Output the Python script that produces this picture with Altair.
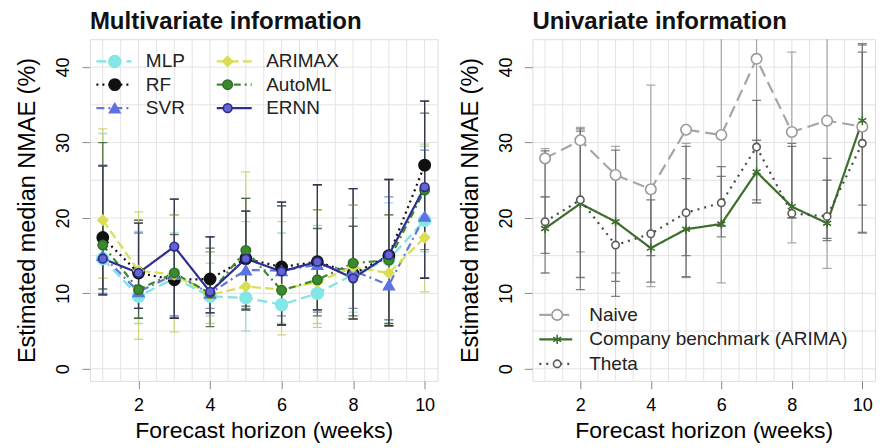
import altair as alt
import pandas as pd

FONT = "Liberation Sans"
horizon = [1, 2, 3, 4, 5, 6, 7, 8, 9, 10]

# ---------------- Multivariate information ----------------
# 2-column legend is filled column by column
mv_order = ["MLP", "RF", "SVR", "ARIMAX", "AutoML", "ERNN"]

mlp_med = [14.6, 9.6, 12.0, 9.6, 9.4, 8.5, 10.0, 12.5, 14.5, 19.7]
mlp_lo = [10.5, 6.0, 7.0, 7.0, 5.0, 6.0, 5.5, 7.5, 6.5, 15.5]
mlp_hi = [31.2, 18.2, 18.0, 14.0, 19.5, 18.0, 19.0, 20.0, 22.0, 29.5]

rf_med = [17.4, 12.7, 11.8, 11.9, 14.6, 13.5, 14.2, 12.6, 15.0, 27.0]
rf_lo = [9.8, 8.0, 6.7, 7.4, 7.8, 5.8, 7.8, 6.6, 5.7, 12.0]
rf_hi = [26.9, 19.7, 22.5, 17.5, 20.9, 22.1, 24.4, 23.9, 25.1, 35.5]

svr_med = [15.0, 10.2, 12.5, 10.0, 13.1, 13.0, 13.8, 13.0, 11.1, 20.2]
svr_lo = [10.0, 6.7, 7.0, 8.0, 8.0, 7.0, 7.5, 8.0, 6.5, 15.8]
svr_hi = [27.0, 18.0, 20.4, 15.5, 22.6, 21.6, 21.1, 21.7, 22.8, 29.0]

arimax_med = [19.7, 13.0, 12.5, 9.8, 10.9, 10.5, 11.5, 13.5, 12.7, 17.4]
arimax_lo = [12.0, 3.9, 4.9, 6.0, 7.8, 4.5, 6.0, 6.6, 6.0, 10.2]
arimax_hi = [31.8, 20.8, 20.4, 15.5, 26.1, 19.5, 21.0, 21.7, 20.4, 29.8]

automl_med = [16.4, 10.5, 12.7, 10.0, 15.7, 10.4, 11.8, 14.0, 14.4, 23.7]
automl_lo = [10.6, 6.7, 6.7, 5.6, 8.3, 5.8, 7.0, 7.0, 6.0, 12.0]
automl_hi = [30.0, 19.3, 17.8, 16.0, 22.6, 21.6, 18.6, 18.9, 20.4, 33.9]

ernn_med = [14.6, 12.7, 16.2, 10.2, 14.6, 12.9, 14.2, 12.0, 15.1, 24.1]
ernn_lo = [9.8, 8.0, 6.7, 7.4, 7.8, 5.8, 7.8, 6.6, 5.7, 12.0]
ernn_hi = [26.9, 19.3, 22.5, 17.5, 20.9, 22.1, 24.4, 23.9, 25.1, 35.5]

# ---------------- Univariate information ----------------
uv_order = ["Naive", "Company benchmark (ARIMA)", "Theta"]

naive_med = [27.9, 30.3, 25.7, 23.8, 31.7, 31.0, 41.1, 31.4, 32.9, 32.1]
naive_lo = [22.8, 15.5, 12.7, 10.9, 12.1, 11.4, 22.0, 16.7, 13.3, 18.1]
naive_hi = [29.2, 32.0, 29.5, 37.6, 29.9, 46.0, 46.0, 42.0, 46.0, 42.9]

arima_med = [18.6, 21.9, 19.5, 16.0, 18.5, 19.2, 26.1, 21.5, 19.3, 32.9]
arima_lo = [12.7, 10.5, 9.6, 15.0, 12.2, 17.5, 22.4, 20.0, 17.3, 18.0]
arima_hi = [22.8, 31.5, 25.5, 22.4, 25.2, 25.5, 30.3, 29.9, 25.0, 43.1]

theta_med = [19.5, 22.4, 16.4, 17.9, 20.7, 22.0, 29.4, 20.6, 20.2, 29.9]
theta_lo = [15.3, 12.1, 11.6, 11.5, 15.0, 18.9, 22.0, 20.0, 17.0, 21.7]
theta_hi = [28.9, 31.8, 29.0, 23.3, 29.5, 26.8, 35.6, 29.5, 27.9, 42.0]

# grid and ticks
x_grid = [1, 1.5, 2, 2.5, 3, 3.5, 4, 4.5, 5, 5.5, 6, 6.5, 7, 7.5, 8, 8.5, 9, 9.5, 10]
y_grid = [0, 5, 10, 15, 20, 25, 30, 35, 40]
x_ticks = [2, 4, 6, 8, 10]
y_ticks = [0, 10, 20, 30, 40]
x_domain = [0.64, 10.36]
y_domain = [-1.6, 43.7]


def frame(series_data):
    rows = []
    for name, (med, lo, hi) in series_data.items():
        for h, m, l, u in zip(horizon, med, lo, hi):
            rows.append({"h": h, "series": name, "marker": name + " ", "med": m, "lo": l, "hi": u})
    return pd.DataFrame(rows)


mv_df = frame({
    "MLP": (mlp_med, mlp_lo, mlp_hi),
    "RF": (rf_med, rf_lo, rf_hi),
    "SVR": (svr_med, svr_lo, svr_hi),
    "ARIMAX": (arimax_med, arimax_lo, arimax_hi),
    "AutoML": (automl_med, automl_lo, automl_hi),
    "ERNN": (ernn_med, ernn_lo, ernn_hi),
})
uv_df = frame({
    "Naive": (naive_med, naive_lo, naive_hi),
    "Company benchmark (ARIMA)": (arima_med, arima_lo, arima_hi),
    "Theta": (theta_med, theta_lo, theta_hi),
})

ASTERISK = "M0,-1L0,1M-0.87,-0.5L0.87,0.5M-0.87,0.5L0.87,-0.5"
LEGEND_LINE = "M-2.5,0L2.5,0"
mv_style = {
    "MLP": dict(line="#7fe3e3", dash=[10, 5], shape="circle", fill="#84e6e6", stroke="#84e6e6", size=140, bar="#8fd6d6"),
    "RF": dict(line="#111111", dash=[2, 4], shape="circle", fill="#111111", stroke="#111111", size=75, bar="#222222"),
    "SVR": dict(line="#6577d6", dash=[8, 4, 2, 4], shape="triangle-up", fill="#5b74e0", stroke="#5b74e0", size=80, bar="#6d74b8"),
    "ARIMAX": dict(line="#d9de55", dash=[9, 4], shape="diamond", fill="#d9de55", stroke="#d9de55", size=40, bar="#c9cf62"),
    "AutoML": dict(line="#3c8a30", dash=[7, 4, 2, 4], shape="circle", fill="#3c8a30", stroke="#2f6f26", size=150, bar="#3b5e34"),
    "ERNN": dict(line="#2e2e8f", dash=[1, 0], shape="circle", fill="#6464d2", stroke="#2b2b88", size=140, bar="#333355"),
}
uv_style = {
    "Naive": dict(line="#a6a6a6", dash=[12, 6], shape="circle", fill="white", stroke="#9a9a9a", size=110, bar="#9a9a9a"),
    "Company benchmark (ARIMA)": dict(line="#3d6e2c", dash=[1, 0], shape=ASTERISK,
                                      fill="#3d6e2c", stroke="#3d6e2c", size=55, bar="#6b6b6b"),
    "Theta": dict(line="#4a4a4a", dash=[2, 5], shape="circle", fill="white", stroke="#5a5a5a", size=100, bar="#6a6a6a"),
}

xs = alt.Scale(domain=x_domain, nice=False, zero=False)
ys = alt.Scale(domain=y_domain, nice=False, zero=False)
x_axis = alt.Axis(values=x_ticks, grid=False, domain=False, tickSize=8, labelPadding=8,
                  labelFontSize=18, titleFontSize=23, titlePadding=5, titleFontWeight="normal")
y_axis = alt.Axis(values=y_ticks, grid=False, domain=False, tickSize=8, labelPadding=9,
                  labelAngle=270, labelAlign="center", labelBaseline="bottom",
                  labelFontSize=18, titleFontSize=23.5, titlePadding=15, titleFontWeight="normal")
X_TITLE = "Forecast horizon (weeks)"
Y_TITLE = "Estimated median NMAE (%)"


def X(field):
    return alt.X(field, type="quantitative", scale=xs, axis=x_axis, title=X_TITLE)


def Y(field):
    return alt.Y(field, type="quantitative", scale=ys, axis=y_axis, title=Y_TITLE)


def sc(order, style, key, suffix=""):
    return alt.Scale(domain=[s + suffix for s in order], range=[style[s][key] for s in order])


def panel(df, order, style, title, line_legend, point_legend, width):
    layers = []
    layers.append(alt.Chart(pd.DataFrame({"g": x_grid})).mark_rule(color="#e3e3e3", strokeWidth=1)
                  .encode(x=X("g")))
    layers.append(alt.Chart(pd.DataFrame({"g": y_grid})).mark_rule(color="#e3e3e3", strokeWidth=1)
                  .encode(y=Y("g")))
    for s in order:
        st = style[s]
        d = df[df["series"] == s]
        base = alt.Chart(d)
        layers.append(base.mark_rule(color=st["bar"], strokeWidth=1.2, opacity=0.85, clip=True)
                      .encode(x=X("h"), y=Y("lo"), y2="hi"))
        layers.append(base.mark_tick(orient="horizontal", color=st["bar"], size=9, thickness=1.3,
                                     opacity=0.85, clip=True).encode(x=X("h"), y=Y("lo")))
        layers.append(base.mark_tick(orient="horizontal", color=st["bar"], size=9, thickness=1.3,
                                     opacity=0.85, clip=True).encode(x=X("h"), y=Y("hi")))
    layers.append(alt.Chart(df).mark_line(strokeWidth=2.2, clip=True).encode(
        x=X("h"), y=Y("med"),
        color=alt.Color("series:N", scale=sc(order, style, "line"), legend=line_legend),
        strokeDash=alt.StrokeDash("series:N", scale=sc(order, style, "dash"), legend=line_legend),
        detail="series:N", order="h:Q"))
    layers.append(alt.Chart(df).mark_point(filled=False, fillOpacity=1, strokeWidth=1.6, opacity=1).encode(
        x=X("h"), y=Y("med"),
        shape=alt.Shape("marker:N", scale=sc(order, style, "shape", " "), legend=point_legend),
        fill=alt.Fill("marker:N", scale=sc(order, style, "fill", " "), legend=point_legend),
        stroke=alt.Stroke("marker:N", scale=sc(order, style, "stroke", " "), legend=point_legend),
        size=alt.Size("marker:N", scale=sc(order, style, "size", " "), legend=point_legend),
    ))
    return alt.layer(*layers).properties(
        width=width, height=342,
        title=alt.TitleParams(title, anchor="start", frame="group", fontSize=24, fontWeight="bold",
                              font=FONT, color="#111", offset=5),
    )


common = dict(title=None, orient="none", direction="vertical", labelFontSize=19, labelFont=FONT,
              labelColor="#222", labelLimit=500)

mv_line_legend = alt.Legend(legendX=14.5, legendY=12.5, columns=2, symbolType=LEGEND_LINE, symbolSize=196,
                            symbolStrokeWidth=2.2, labelOffset=22.5, rowPadding=3.5, columnPadding=26.5, **common)
mv_point_legend = alt.Legend(legendX=15.4, legendY=12.5, columns=2, symbolStrokeWidth=1.6, symbolOpacity=1,
                             labelOffset=28.4, rowPadding=3.5, columnPadding=65, labelExpr="''", **common)

uv_line_legend = alt.Legend(legendX=13.9, legendY=266.5, symbolType=LEGEND_LINE, symbolSize=174,
                            symbolStrokeWidth=2.2, labelOffset=24, rowPadding=4.5, **common)
uv_point_legend = alt.Legend(legendX=15.3, legendY=266.5, symbolStrokeWidth=1.6, symbolOpacity=1,
                             labelOffset=24, rowPadding=4.5, labelExpr="''", **common)

left = panel(mv_df, mv_order, mv_style, "Multivariate information", mv_line_legend, mv_point_legend, 348)
right = panel(uv_df, uv_order, uv_style, "Univariate information", uv_line_legend, uv_point_legend, 343)

chart = alt.hconcat(left, right, spacing=19).resolve_scale(
    color="independent", strokeDash="independent", shape="independent",
    fill="independent", stroke="independent", size="independent"
).properties(
    padding={"left": 7, "top": 1, "right": 0, "bottom": 0}
).configure_view(stroke="#555", strokeWidth=1.2).configure_axis(
    labelFont=FONT, titleFont=FONT, labelColor="#222", titleColor="#222", tickColor="#444",
    titleFontWeight="normal"
).configure(background="white")

chart.save("out.html", embed_options={"renderer": "svg", "actions": False})
